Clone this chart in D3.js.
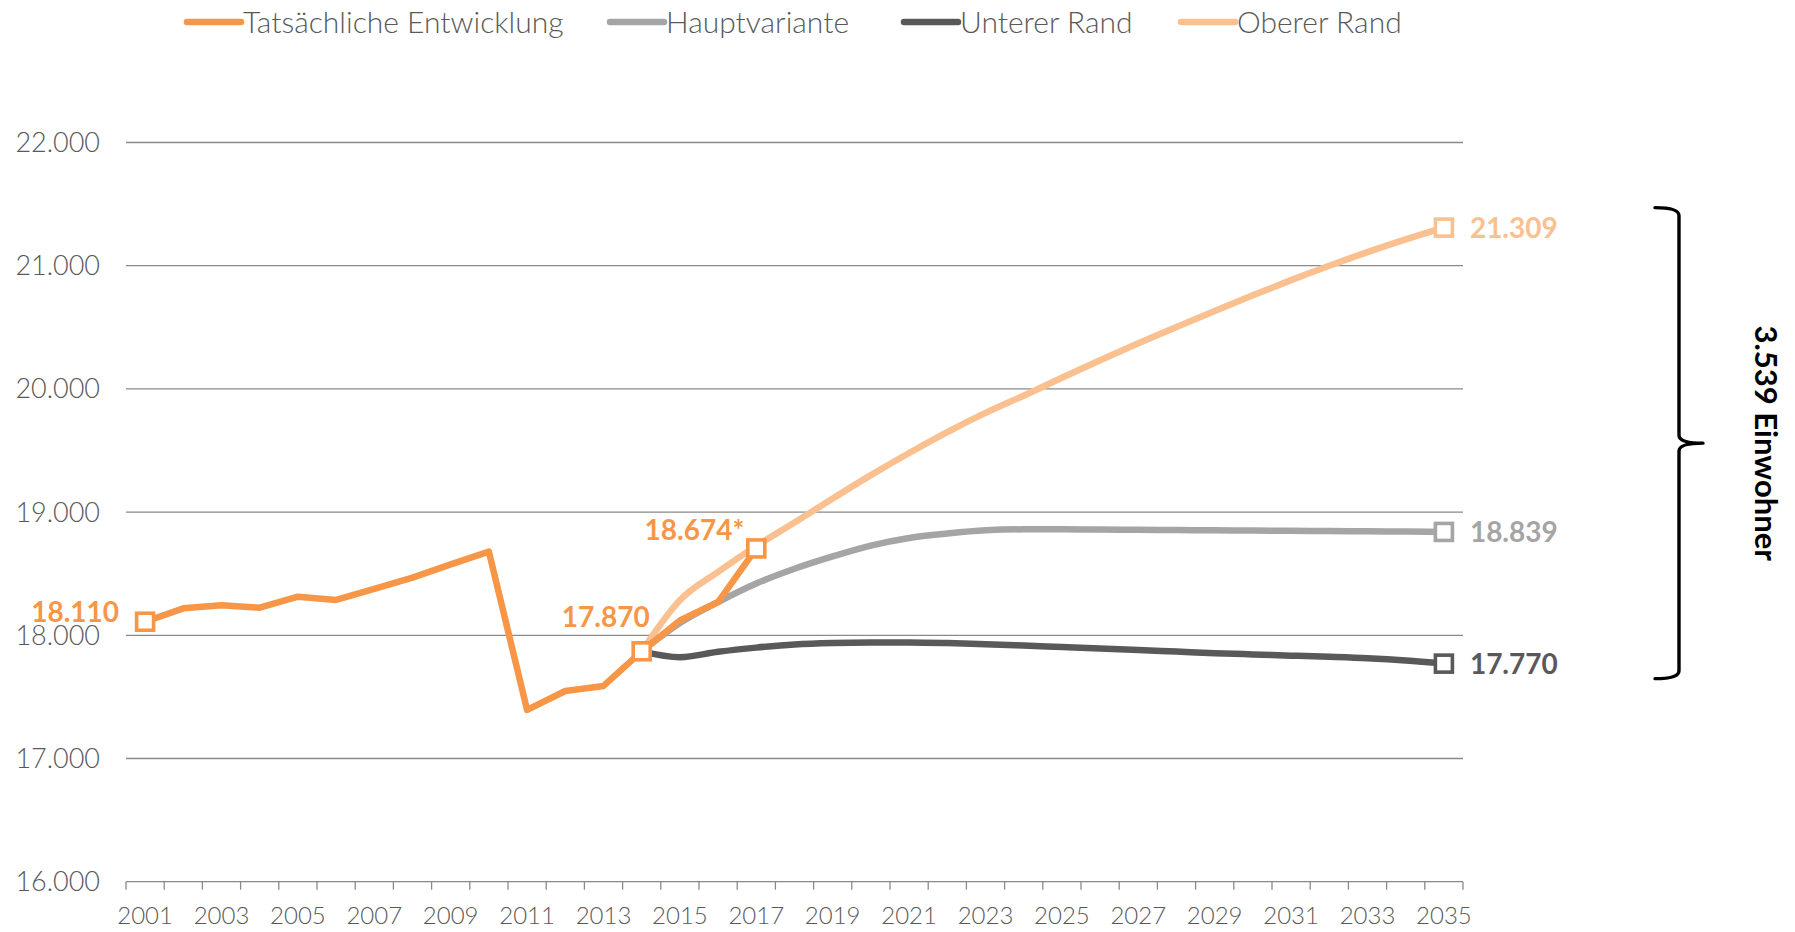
<!DOCTYPE html>
<html><head><meta charset="utf-8">
<script src="https://cdn.jsdelivr.net/npm/d3@7/dist/d3.min.js"></script>
<style>body{margin:0;background:#fff;} svg{display:block;}</style>
</head><body>
<svg id="chart" width="1795" height="932"></svg>
<script>
// ---------- data ----------
const years = [2001,2002,2003,2004,2005,2006,2007,2008,2009,2010,2011,2012,2013,2014,2015,2016,2017,2018,
  2019,2020,2021,2022,2023,2024,2025,2026,2027,2028,2029,2030,2031,2032,2033,2034,2035];
const xTickLabels = ["2001","2003","2005","2007","2009","2011","2013","2015","2017","2019","2021","2023",
  "2025","2027","2029","2031","2033","2035"];
const yTicks = [16000,17000,18000,19000,20000,21000,22000];

const actualYears  = [2001,2002,2003,2004,2005,2006,2007,2008,2009,2010,2011,2012,2013,2014,2015,2016,2017];
const actualValues = [18110,18219,18243,18224,18313,18287,18376,18468,18576,18679,17394,17548,17589,17870,18120,18270,18705];

const projYears   = [2014,2015,2016,2017,2018,2019,2020,2021,2022,2023,2024,2025,2026,2027,2028,2029,2030,2031,2032,2033,2034,2035];
const hauptValues = [17870,18100,18270,18420,18540,18640,18728,18790,18826,18852,18860,18860,18858,18856,18854,18852,18850,18848,18846,18844,18842,18839];
const unterValues = [17870,17822,17866,17900,17926,17938,17942,17942,17937,17928,17917,17905,17893,17881,17868,17855,17845,17835,17825,17813,17795,17770];
const oberValues  = [17870,18285,18515,18725,18915,19110,19300,19480,19650,19805,19945,20090,20232,20370,20503,20633,20760,20883,21000,21110,21213,21309];

const seriesNames  = ["Tatsächliche Entwicklung","Hauptvariante","Unterer Rand","Oberer Rand"];
const seriesColors = ["#F79646","#A5A5A5","#595959","#FAC090"];

const actualMarkerYears = [2001,2014,2017];
const actualLabels = ["18.110","17.870","18.674*"];
const rangeLabel = "3.539 Einwohner";

// ---------- setup ----------
const svg = d3.select("#chart");
const plotL = 126, plotR = 1463, plotT = 142.5, plotB = 881.7;
const x = d3.scaleBand().domain(years).range([plotL, plotR]).padding(0);
const cx = yr => x(yr) + x.bandwidth() / 2;
const y = d3.scaleLinear().domain([16000, 22000]).range([plotB, plotT]);
const de = d3.formatLocale({decimal: ",", thousands: ".", grouping: [3], currency: ["", "€"]});
const fmt = de.format(",d");
const FONT = "Lato, 'Open Sans', sans-serif";
const textGray = "#595959";
const gridGray = "#8A8A8A";

// gridlines
svg.append("g").selectAll("line").data(yTicks).join("line")
  .attr("x1", plotL).attr("x2", plotR)
  .attr("y1", d => y(d)).attr("y2", d => y(d))
  .attr("stroke", gridGray).attr("stroke-width", 1.3);

// y tick labels
svg.append("g").selectAll("text").data(yTicks).join("text")
  .attr("x", 100).attr("y", d => y(d)).attr("dy", "0.35em")
  .attr("text-anchor", "end")
  .attr("font-family", FONT).attr("font-weight", 300).attr("font-size", 27)
  .attr("fill", textGray).text(d => fmt(d));

// x axis ticks at band boundaries
const boundaries = years.map(yr => x(yr)).concat([plotR]);
svg.append("g").selectAll("line").data(boundaries).join("line")
  .attr("x1", d => d).attr("x2", d => d)
  .attr("y1", plotB).attr("y2", plotB + 8)
  .attr("stroke", gridGray).attr("stroke-width", 1.3);

// x labels
svg.append("g").selectAll("text").data(xTickLabels).join("text")
  .attr("x", d => cx(+d)).attr("y", 924)
  .attr("text-anchor", "middle")
  .attr("font-family", FONT).attr("font-weight", 300).attr("font-size", 24)
  .attr("fill", textGray).text(d => d);

// lines
const line = d3.line().x(d => cx(d[0])).y(d => y(d[1]));
const smooth = d3.line().x(d => cx(d[0])).y(d => y(d[1])).curve(d3.curveMonotoneX);
const proj = [
  {vals: oberValues, color: seriesColors[3]},
  {vals: hauptValues, color: seriesColors[1]},
  {vals: unterValues, color: seriesColors[2]}
];
proj.forEach(p => {
  svg.append("path").datum(projYears.map((yr, i) => [yr, p.vals[i]]))
    .attr("d", smooth).attr("fill", "none").attr("stroke", p.color)
    .attr("stroke-width", 6.5).attr("stroke-linejoin", "round");
});
svg.append("path").datum(actualYears.map((yr, i) => [yr, actualValues[i]]))
  .attr("d", line).attr("fill", "none").attr("stroke", seriesColors[0])
  .attr("stroke-width", 6.5).attr("stroke-linejoin", "round");

// markers
const MS = 17;
function marker(yr, v, color) {
  svg.append("rect").attr("x", cx(yr) - MS/2).attr("y", y(v) - MS/2)
    .attr("width", MS).attr("height", MS)
    .attr("fill", "#fff").attr("stroke", color).attr("stroke-width", 3.6);
}
actualMarkerYears.forEach(yr => marker(yr, actualValues[actualYears.indexOf(yr)], seriesColors[0]));
const endIdx = projYears.length - 1;
const endYear = projYears[endIdx];
marker(endYear, oberValues[endIdx], seriesColors[3]);
marker(endYear, hauptValues[endIdx], seriesColors[1]);
marker(endYear, unterValues[endIdx], seriesColors[2]);

// data labels for actual
const lblOffsets = [[-26, 0], [8, -24], [-12, -8]];
actualMarkerYears.forEach((yr, i) => {
  const v = actualValues[actualYears.indexOf(yr)];
  svg.append("text").attr("x", cx(yr) + lblOffsets[i][0]).attr("y", y(v) + lblOffsets[i][1])
    .attr("text-anchor", "end")
    .attr("font-family", FONT).attr("font-weight", 700).attr("font-size", 28)
    .attr("fill", seriesColors[0]).text(actualLabels[i]);
});
// end labels
[[oberValues, seriesColors[3]], [hauptValues, seriesColors[1]], [unterValues, seriesColors[2]]].forEach(([vals, c]) => {
  svg.append("text").attr("x", cx(endYear) + 26).attr("y", y(vals[endIdx])).attr("dy", "0.36em")
    .attr("text-anchor", "start")
    .attr("font-family", FONT).attr("font-weight", 700).attr("font-size", 28)
    .attr("fill", c).text(fmt(vals[endIdx]));
});

// brace
const bTop = y(oberValues[endIdx]) - 20, bBot = y(unterValues[endIdx]) + 15;
const bMid = (bTop + bBot) / 2;
const bx0 = 1655, bx1 = 1679, bx2 = 1703;
const r = 8;
const brace = `M${bx0},${bTop} Q${bx1},${bTop} ${bx1},${bTop + r} L${bx1},${bMid - r} Q${bx1},${bMid} ${bx2},${bMid}`
  + ` M${bx2},${bMid} Q${bx1},${bMid} ${bx1},${bMid + r} L${bx1},${bBot - r} Q${bx1},${bBot} ${bx0},${bBot}`;
svg.append("path").attr("d", brace).attr("fill", "none").attr("stroke", "#000")
  .attr("stroke-width", 3.4).attr("stroke-linecap", "round");

svg.append("text").attr("transform", `translate(1755,${bMid}) rotate(90)`)
  .attr("text-anchor", "middle")
  .attr("font-family", FONT).attr("font-weight", 700).attr("font-size", 31)
  .attr("fill", "#000").text(rangeLabel);

// legend
const legendX = [187, 610, 904, 1181];
const lg = svg.append("g");
seriesNames.forEach((n, i) => {
  lg.append("line").attr("x1", legendX[i]).attr("x2", legendX[i] + 54)
    .attr("y1", 22).attr("y2", 22).attr("stroke", seriesColors[i])
    .attr("stroke-width", 6.5).attr("stroke-linecap", "round");
  lg.append("text").attr("x", legendX[i] + 56).attr("y", 22).attr("dy", "0.35em")
    .attr("font-family", FONT).attr("font-weight", 300).attr("font-size", 30)
    .attr("fill", textGray).text(n);
});
</script>
</body></html>
